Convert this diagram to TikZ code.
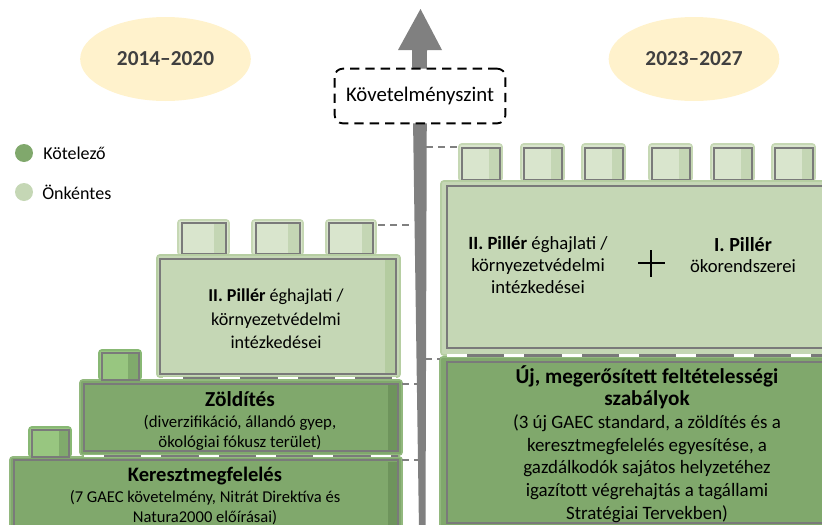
\documentclass[tikz,border=0pt]{standalone}
\usepackage{fontspec}
\setmainfont{Carlito}
\usepackage{tikz}
\usetikzlibrary{shapes.geometric}

\begin{document}
\begin{tikzpicture}[x=0.75pt,y=0.75pt,yscale=-1,xscale=1,
  bigdark/.style={fill={rgb, 255:red, 128; green, 168; blue, 108 }, draw={rgb, 255:red, 146; green, 184; blue, 126 }, line width=1.2, rounded corners=2},
  biglight/.style={fill={rgb, 255:red, 197; green, 215; blue, 181 }, draw={rgb, 255:red, 182; green, 206; blue, 162 }, line width=1.2, rounded corners=2},
  knobdark/.style={fill={rgb, 255:red, 152; green, 198; blue, 128 }, draw={rgb, 255:red, 136; green, 184; blue, 116 }, line width=1.2, rounded corners=2},
  knoblight/.style={fill={rgb, 255:red, 217; green, 229; blue, 205 }, draw={rgb, 255:red, 198; green, 216; blue, 180 }, line width=1.2, rounded corners=2},
  stripdark/.style={fill={rgb, 255:red, 110; green, 148; blue, 92 }},
  striplight/.style={fill={rgb, 255:red, 180; green, 204; blue, 160 }},
  stripknobdark/.style={fill={rgb, 255:red, 128; green, 170; blue, 108 }},
  stripknoblight/.style={fill={rgb, 255:red, 196; green, 214; blue, 180 }},
  rim/.style={draw={rgb, 255:red, 122; green, 122; blue, 122 }, line width=1.9},
  knobrim/.style={draw={rgb, 255:red, 122; green, 122; blue, 122 }, line width=1.6},
  seamgray/.style={draw={rgb, 255:red, 122; green, 122; blue, 122 }, line width=1.9},
  seamwhite/.style={draw=white, line width=2.2, dash pattern={on 15pt off 28pt}},
  guide/.style={draw={rgb, 255:red, 128; green, 128; blue, 128 }, line width=1.4, dash pattern={on 5pt off 4pt}},
  yearoval/.style={ellipse, fill={rgb, 255:red, 255; green, 242; blue, 204 }, inner sep=0pt, minimum width=128pt, minimum height=63pt, font=\fontsize{16}{18}\selectfont\bfseries, text={rgb, 255:red, 64; green, 64; blue, 64 }},
  reqbox/.style={draw, fill=white, line width=1.4, dash pattern={on 7pt off 4.5pt}, rounded corners=6pt, minimum width=128pt, minimum height=41pt, inner sep=0pt, font=\fontsize{15.6}{18}\selectfont},
  legenddot/.style={circle, inner sep=0pt, minimum size=13.5pt},
  legendtext/.style={anchor=west, inner sep=0pt, font=\fontsize{13.5}{16}\selectfont},
  bodytext/.style={align=center, inner sep=0pt, font=\fontsize{12.5}{17}\selectfont}
]
\useasboundingbox (0,0) rectangle (822,525);
\clip (0,0) rectangle (822,525);

%Shape: Ellipse
\node[yearoval] (evA) at (165.5,59) {2014–2020};
%Shape: Ellipse
\node[yearoval] (evB) at (694,59) {2023–2027};

%Shape: Arrow
\fill[fill={rgb, 255:red, 128; green, 128; blue, 128 }] (420.5,9) -- (442,50) -- (427,50) -- (425.5,530) -- (419,530) -- (412,50) -- (398,50) -- cycle;

%Legend
\node[legenddot, fill={rgb, 255:red, 128; green, 168; blue, 108 }] (dotK) at (24,153) {};
\node[legendtext] (txtK) at (43,153) {Kötelező};
\node[legenddot, fill={rgb, 255:red, 197; green, 215; blue, 181 }] (dotO) at (24,192) {};
\node[legendtext] (txtO) at (42,192) {Önkéntes};

%Brick: Keresztmegfelelés
\draw[bigdark] (10,457) rectangle (402,540);
\fill[stripdark] (388,462) rectangle (397,540);
\draw[rim] (14,460) rectangle (398,528);
\draw[knobdark] (29,427) rectangle (71,457);
\fill[stripknobdark] (59,431) rectangle (68,457);
\draw[knobrim] (32,430) rectangle (69,457);

%Brick: Zöldítés
\draw[bigdark] (80,380) rectangle (402,455);
\fill[stripdark] (388,385) rectangle (397,450);
\draw[rim] (84,384) rectangle (398,451);
\draw[knobdark] (99,350) rectangle (141,380);
\fill[stripknobdark] (128,354) rectangle (138,380);
\draw[knobrim] (102,353) rectangle (139,380);
%Seam
\draw[seamgray] (84,456) -- (398,456);
\draw[seamwhite] (84,456) -- (398,456);

%Brick: II. Pillér (left)
\draw[knoblight] (178,220) rectangle (229,255);
\fill[stripknoblight] (214,224) rectangle (226,254);
\draw[knobrim] (182,223) rectangle (226,254);
\draw[knoblight] (252,220) rectangle (303,255);
\fill[stripknoblight] (288,224) rectangle (300,254);
\draw[knobrim] (256,223) rectangle (300,254);
\draw[knoblight] (326,220) rectangle (376,255);
\fill[stripknoblight] (362,224) rectangle (373,254);
\draw[knobrim] (329,223) rectangle (373,254);
\draw[biglight] (157,255) rectangle (400,377);
\fill[striplight] (385,260) rectangle (395,373);
\draw[rim] (160,259) rectangle (396,374);
%Seam
\draw[seamgray] (163,378) -- (396,378);
\draw[seamwhite] (163,378) -- (396,378);

%Brick: feltételesség (right)
\draw[bigdark] (440,357) rectangle (840,540);
\draw[rim] (447,362) rectangle (835,523);

%Brick: II. Pillér + I. Pillér (right)
\draw[knoblight] (459,144) rectangle (502,181);
\fill[stripknoblight] (489,148) rectangle (500,180);
\draw[knobrim] (462,148) rectangle (500,180);
\draw[knoblight] (521,144) rectangle (564,181);
\fill[stripknoblight] (551,148) rectangle (562,180);
\draw[knobrim] (524,148) rectangle (562,180);
\draw[knoblight] (582,144) rectangle (625,181);
\fill[stripknoblight] (612,148) rectangle (623,180);
\draw[knobrim] (585,148) rectangle (623,180);
\draw[knoblight] (649,144) rectangle (692,181);
\fill[stripknoblight] (679,148) rectangle (690,180);
\draw[knobrim] (652,148) rectangle (690,180);
\draw[knoblight] (711,144) rectangle (754,181);
\fill[stripknoblight] (741,148) rectangle (752,180);
\draw[knobrim] (714,148) rectangle (752,180);
\draw[knoblight] (772,144) rectangle (815,181);
\fill[stripknoblight] (802,148) rectangle (813,180);
\draw[knobrim] (775,148) rectangle (813,180);
\draw[biglight] (441,181) rectangle (840,355);
\draw[rim] (447,186) rectangle (835,348);
%Seam
\draw[seamgray] (447,355.5) -- (822,355.5);
\draw[seamwhite] (447,355.5) -- (822,355.5);

%Plus sign
\draw[line width=1.3] (638,263) -- (665,263);
\draw[line width=1.3] (651,250) -- (651,277);

%Guide lines to the arrow
\coordinate (topL) at (378,225);
\coordinate (axL1) at (412,225);
\coordinate (zoldR) at (402,384);
\coordinate (axL2) at (418,384);
\coordinate (kereszR) at (402,460);
\coordinate (axL3) at (419,460);
\coordinate (axR1) at (426,147);
\coordinate (topR) at (459,147);
\coordinate (axR2) at (425,359);
\coordinate (midR) at (440,359);
\draw[guide] (topL) -- (axL1);
\draw[guide] (zoldR) -- (axL2);
\draw[guide] (kereszR) -- (axL3);
\draw[guide] (axR1) -- (topR);
\draw[guide] (axR2) -- (midR);

%Dashed box
\node[reqbox] (szint) at (420,96) {Követelményszint};

% Text Node
\node[bodytext, font=\fontsize{13.6}{17.5}\selectfont] (pillerL) at (276,319) {\textbf{II. Pillér} éghajlati /\\környezetvédelmi\\intézkedései};
% Text Node
\node[bodytext, font=\fontsize{12.6}{15.5}\selectfont] (zold) at (240,421) {{\fontsize{16}{17}\selectfont\bfseries Zöldítés}\\(diverzifikáció, állandó gyep,\\ökológiai fókusz terület)};
% Text Node
\node[bodytext, font=\fontsize{12.4}{15.5}\selectfont] (kereszt) at (205,496) {{\fontsize{15.4}{17}\selectfont\bfseries Keresztmegfelelés}\\(7 GAEC követelmény, Nitrát Direktíva és\\Natura2000 előírásai)};
% Text Node
\node[bodytext, font=\fontsize{14}{16.5}\selectfont] (pillerR) at (538,265) {\textbf{II. Pillér} éghajlati /\\környezetvédelmi\\intézkedései};
% Text Node
\node[bodytext, font=\fontsize{14}{16}\selectfont] (pillerI) at (743,255) {{\fontsize{15}{17}\selectfont\bfseries I. Pillér}\\ökorendszerei};
% Text Node
\node[bodytext, font=\fontsize{14.2}{17}\selectfont] (feltetel) at (647,444) {{\fontsize{15.9}{18.5}\selectfont\bfseries Új, megerősített feltételességi}\\{\fontsize{15.9}{18.5}\selectfont\bfseries szabályok}\\(3 új GAEC standard, a zöldítés és a\\keresztmegfelelés egyesítése, a\\gazdálkodók sajátos helyzetéhez\\igazított végrehajtás a tagállami\\Stratégiai Tervekben)};

\end{tikzpicture}
\end{document}
